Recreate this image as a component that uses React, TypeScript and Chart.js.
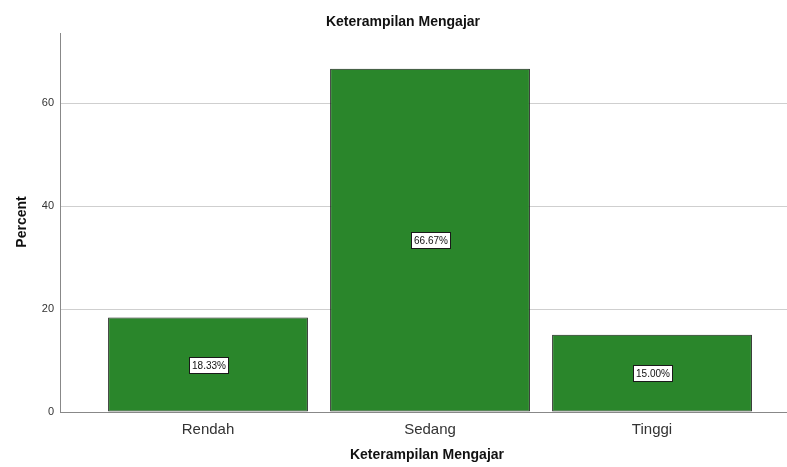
import React, { useEffect, useRef } from "react";
import { Chart, registerables } from "chart.js";

Chart.register(...registerables);

const categories = ["Rendah", "Sedang", "Tinggi"];
const percentValues = [18.33, 66.67, 15.0];
const valueLabels = ["18.33%", "66.67%", "15.00%"];
const yTicks = [0, 20, 40, 60];
const chartTitle = "Keterampilan Mengajar";
const xTitle = "Keterampilan Mengajar";
const yTitle = "Percent";

const FONT = "'Liberation Sans', Arial, sans-serif";

const textPlugin = {
  id: "textPlugin",
  afterDatasetsDraw(chart: any) {
    const ctx = chart.ctx;
    ctx.save();
    const meta = chart.getDatasetMeta(0);
    ctx.font = `10px ${FONT}`;
    meta.data.forEach((bar: any, i: number) => {
      const label = valueLabels[i];
      const cx = bar.x;
      const cy = (bar.y + bar.base) / 2;
      const w = Math.round(ctx.measureText(label).width + 5);
      const h = 16;
      const x0 = Math.round(cx - w / 2) + 0.5;
      const y0 = Math.round(cy - h / 2) + 0.5;
      ctx.fillStyle = "#ffffff";
      ctx.fillRect(x0, y0, w, h);
      ctx.strokeStyle = "#1a1a1a";
      ctx.lineWidth = 1;
      ctx.strokeRect(x0, y0, w, h);
      ctx.fillStyle = "#111111";
      ctx.textAlign = "center";
      ctx.textBaseline = "middle";
      ctx.fillText(label, x0 + w / 2, y0 + h / 2 + 0.5);
    });
    ctx.fillStyle = "#111111";
    ctx.font = `bold 14px ${FONT}`;
    ctx.textAlign = "center";
    ctx.textBaseline = "middle";
    ctx.fillText(chartTitle, 403, 22);
    ctx.fillText(xTitle, 427, 455);
    ctx.translate(22, 222);
    ctx.rotate(-Math.PI / 2);
    ctx.fillText(yTitle, 0, 0);
    ctx.restore();
  },
};

export default function App() {
  const canvasRef = useRef<HTMLCanvasElement | null>(null);

  useEffect(() => {
    document.body.style.margin = "0";
    const canvas = canvasRef.current;
    if (!canvas) return;
    const chart = new Chart(canvas, {
      type: "bar",
      data: {
        datasets: [
          {
            data: categories.map((c, i) => ({ x: i, y: percentValues[i] })),
            backgroundColor: "rgb(42,134,43)",
            borderColor: "#1a1f1a",
            borderWidth: 1,
            borderSkipped: false,
            categoryPercentage: 1,
            barPercentage: 0.9,
          },
        ],
      },
      options: {
        animation: false,
        responsive: false,
        maintainAspectRatio: false,
        layout: { padding: { top: 33, left: 0, right: 0, bottom: 0 } },
        plugins: {
          legend: { display: false },
          title: { display: false },
          tooltip: { enabled: false },
        },
        scales: {
          x: {
            type: "linear",
            offset: false,
            min: -0.6667,
            max: 2.608,
            afterBuildTicks: (scale: any) => {
              scale.ticks = categories.map((_, i) => ({ value: i }));
            },
            afterFit: (scale: any) => {
              scale.height = 55;
            },
            grid: { display: false, drawTicks: false, offset: false },
            border: { display: true, color: "#888888", width: 1 },
            ticks: {
              padding: 9,
              color: "#333333",
              font: { family: FONT, size: 15 },
              callback: (v: any) => categories[Number(v)] ?? "",
              autoSkip: false,
              maxRotation: 0,
            },
          },
          y: {
            min: 0,
            max: 73.6,
            afterBuildTicks: (scale: any) => {
              scale.ticks = yTicks.map((v) => ({ value: v }));
            },
            afterFit: (scale: any) => {
              scale.width = 60;
            },
            grid: {
              drawTicks: false,
              color: (c: any) => (c.tick && c.tick.value === 0 ? "rgba(0,0,0,0)" : "#cfcfcf"),
              lineWidth: 1,
            },
            border: { display: true, color: "#888888", width: 1 },
            ticks: {
              padding: 6,
              color: "#333333",
              font: { family: FONT, size: 11 },
            },
          },
        },
      },
      plugins: [textPlugin],
    } as any);
    return () => chart.destroy();
  }, []);

  return (
    <div style={{ position: "absolute", left: 0, top: 0, width: 787, height: 467, background: "#fff" }}>
      <canvas ref={canvasRef} width={787} height={467} style={{ width: 787, height: 467 }} />
    </div>
  );
}
